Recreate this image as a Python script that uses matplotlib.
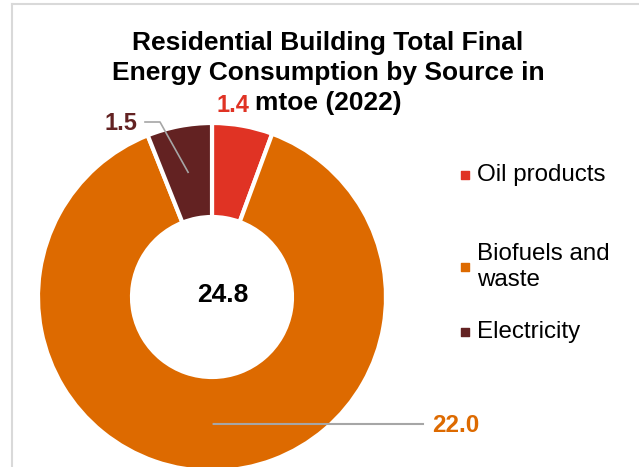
import numpy as np
import matplotlib
matplotlib.use("Agg")
import matplotlib.pyplot as plt
from matplotlib.lines import Line2D

plt.rcParams['font.family'] = ['Liberation Sans', 'DejaVu Sans']

# data
sources = ['Oil products', 'Biofuels and\nwaste', 'Electricity']
values = [1.4, 22.0, 1.5]
labels = ['1.4', '22.0', '1.5']
colors = ['#E03324', '#DD6A00', '#632222']
total_label = '24.8'
title = 'Residential Building Total Final\nEnergy Consumption by Source in\nmtoe (2022)'

W, H = 639, 467
fig = plt.figure(figsize=(W / 100, H / 100), dpi=100)
ax = fig.add_axes([0, 0, 1, 1])

# chart works in pixel units (y measured upward)
cx, cy = 212, H - 297
r_out, r_in = 174, 80

wedges, _ = ax.pie(values, colors=colors, startangle=90, counterclock=False,
                   center=(cx, cy), radius=r_out, frame=True,
                   wedgeprops=dict(width=r_out - r_in, edgecolor='white', linewidth=3))
ax.set_xlim(0, W)
ax.set_ylim(0, H)
ax.set_aspect('equal')
ax.axis('off')

# frame lines of the chart area
fig.add_artist(Line2D([12 / W, 12 / W], [0, 1 - 4 / H], transform=fig.transFigure, color='#D9D9D9', lw=1.5))
fig.add_artist(Line2D([12 / W, 1], [1 - 4 / H, 1 - 4 / H], transform=fig.transFigure, color='#D9D9D9', lw=1.5))

# data labels
r_mid = (r_out + r_in) / 2
def mid_point(w, r):
    a = np.deg2rad((w.theta1 + w.theta2) / 2)
    return cx + r * np.cos(a), cy + r * np.sin(a)

# oil products: no leader
ax.text(233, H - 105, labels[0], color=colors[0], fontsize=17, fontweight='bold', ha='center', va='center')

# biofuels: leader to the right
x0, y0 = mid_point(wedges[1], r_mid)
ax.plot([x0, 423], [y0, H - 424], color='#A6A6A6', lw=1.5)
ax.text(432, H - 425, labels[1], color=colors[1], fontsize=17.5, fontweight='bold', ha='left', va='center')

# electricity: leader up-left
x0, y0 = mid_point(wedges[2], r_mid)
ax.plot([x0, 160, 145], [y0, H - 122, H - 122], color='#A6A6A6', lw=1.2)
ax.text(121, H - 124, labels[2], color=colors[2], fontsize=17, fontweight='bold', ha='center', va='center')

# total in the hole
ax.text(cx + 11, cy + 2, total_label, fontsize=19, fontweight='bold', ha='center', va='center')

# title
fig.text(328 / W, 1 - 73 / H, title, fontsize=19, fontweight='bold', ha='center', va='center',
         linespacing=1.3)

# legend
leg_y = [175, 267, 332]
for name, c, y in zip(sources, colors, leg_y):
    ax.scatter([465], [H - y], marker='s', s=34, color=c)
    ax.text(477, H - y, name, fontsize=17.4, ha='left', va='center', linespacing=1.2)

fig.savefig('out.png', dpi=100)
